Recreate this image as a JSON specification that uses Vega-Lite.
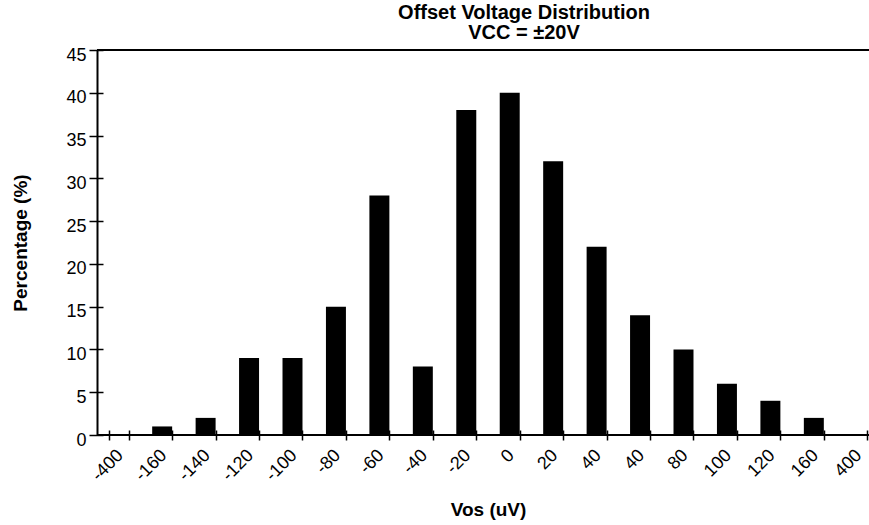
{
  "$schema": "https://vega.github.io/schema/vega-lite/v6.json",
  "width": 772,
  "height": 385,
  "autosize": {"type": "none"},
  "padding": {"left": 97, "top": 50, "right": 0, "bottom": 90},
  "background": "white",
  "title": {
    "text": "Offset Voltage Distribution",
    "subtitle": "VCC = ±20V",
    "font": "Liberation Sans",
    "fontSize": 20,
    "fontWeight": "bold",
    "color": "black",
    "subtitleFont": "Liberation Sans",
    "subtitleFontSize": 20,
    "subtitleFontWeight": "bold",
    "subtitleColor": "black",
    "subtitlePadding": 0,
    "anchor": "middle",
    "dx": 41,
    "offset": 3
  },
  "data": {
    "values": [
      {"i": 0, "label": "-400", "pct": 0},
      {"i": 1, "label": "-160", "pct": 1},
      {"i": 2, "label": "-140", "pct": 2},
      {"i": 3, "label": "-120", "pct": 9},
      {"i": 4, "label": "-100", "pct": 9},
      {"i": 5, "label": "-80", "pct": 15},
      {"i": 6, "label": "-60", "pct": 28},
      {"i": 7, "label": "-40", "pct": 8},
      {"i": 8, "label": "-20", "pct": 38},
      {"i": 9, "label": "0", "pct": 40},
      {"i": 10, "label": "20", "pct": 32},
      {"i": 11, "label": "40", "pct": 22},
      {"i": 12, "label": "40", "pct": 14},
      {"i": 13, "label": "80", "pct": 10},
      {"i": 14, "label": "100", "pct": 6},
      {"i": 15, "label": "120", "pct": 4},
      {"i": 16, "label": "160", "pct": 2},
      {"i": 17, "label": "400", "pct": 0}
    ]
  },
  "layer": [
    {
      "mark": {"type": "bar", "color": "black"},
      "encoding": {
        "x": {
          "field": "i",
          "type": "ordinal",
          "scale": {"range": [0, 782], "paddingInner": 0.54, "paddingOuter": 0.27},
          "axis": {
            "title": "Vos (uV)",
            "titleFont": "Liberation Sans",
            "titleFontSize": 19,
            "titleFontWeight": "bold",
            "titleColor": "black",
            "titleX": 391,
            "titlePadding": 16,
            "labelExpr": "['-400','-160','-140','-120','-100','-80','-60','-40','-20','0','20','40','40','80','100','120','160','400'][datum.value]",
            "labelAngle": -45,
            "labelAlign": "right",
            "labelBaseline": "top",
            "labelFont": "Liberation Sans",
            "labelFontSize": 18,
            "labelColor": "black",
            "labelPadding": 6,
            "labelOffset": -5,
            "labelBound": false,
            "tickBand": "extent",
            "tickSize": 10,
            "tickColor": "black",
            "tickWidth": 1.5,
            "offset": -5,
            "domain": false,
            "grid": false
          }
        },
        "y": {
          "field": "pct",
          "type": "quantitative",
          "scale": {"domain": [0, 45], "nice": false},
          "axis": {
            "orient": "left",
            "title": "Percentage (%)",
            "titleFont": "Liberation Sans",
            "titleFontSize": 19,
            "titleFontWeight": "bold",
            "titleColor": "black",
            "titlePadding": 35,
            "values": [0, 5, 10, 15, 20, 25, 30, 35, 40, 45],
            "labelFont": "Liberation Sans",
            "labelFontSize": 18,
            "labelColor": "black",
            "labelPadding": 3,
            "labelOffset": 5,
            "tickSize": 8,
            "tickColor": "black",
            "tickWidth": 1.5,
            "domainColor": "black",
            "domainWidth": 2,
            "grid": false
          }
        }
      }
    },
    {
      "mark": {"type": "rule", "color": "black", "strokeWidth": 2},
      "encoding": {
        "y": {
          "datum": 0,
          "type": "quantitative",
          "axis": {
            "orient": "left",
            "values": [0, 5, 10, 15, 20, 25, 30, 35, 40, 45],
            "tickSize": -6,
            "tickColor": "black",
            "tickWidth": 1.5,
            "labels": false,
            "domain": false,
            "grid": false,
            "title": null
          }
        }
      }
    },
    {
      "mark": {"type": "rule", "color": "black", "strokeWidth": 2},
      "encoding": {"y": {"datum": 45, "type": "quantitative", "axis": null}}
    }
  ],
  "resolve": {"axis": {"y": "independent"}},
  "config": {"view": {"stroke": null}}
}
